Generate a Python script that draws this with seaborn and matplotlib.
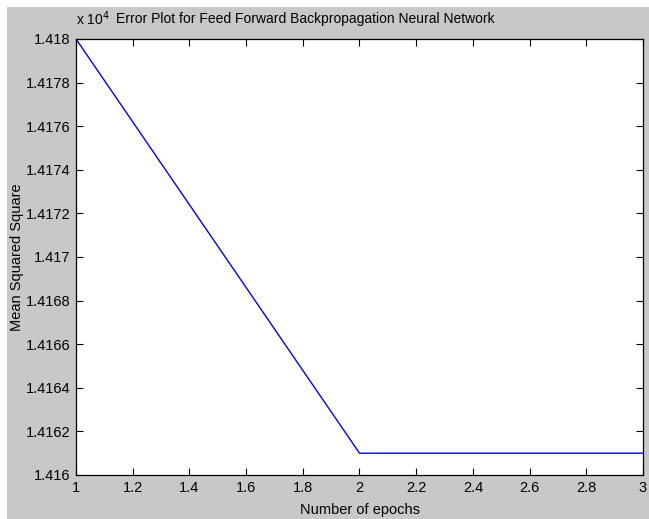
import numpy as np
import pandas as pd
import seaborn as sns
import matplotlib.pyplot as plt
from matplotlib.patches import Rectangle
from matplotlib.ticker import FuncFormatter

# data
epochs = [1, 2, 3]
mse = [14180.0, 14161.0, 14161.0]

x_ticks = np.arange(1, 3.01, 0.2)
y_ticks = np.arange(14160, 14180.1, 2)

df = pd.DataFrame({'epoch': epochs, 'mse': mse})

sns.set_style('ticks')
plt.rcParams['font.family'] = ['Liberation Sans', 'DejaVu Sans']
plt.rcParams['text.color'] = 'black'
plt.rcParams['axes.labelcolor'] = 'black'

fig = plt.figure(figsize=(6.49, 5.19), dpi=100, facecolor='white')
fig.patches.append(Rectangle((7 / 649, 0), 1, 1 - 7 / 519, transform=fig.transFigure,
                             facecolor='#c8c8c8', edgecolor='none', zorder=-10))
ax = fig.add_axes([76 / 649, 44 / 519, 567 / 649, 436 / 519])
ax.set_facecolor('white')

sns.lineplot(data=df, x='epoch', y='mse', ax=ax, color='#0000ff', linewidth=1)

ax.set_xlim(1, 3)
ax.set_ylim(14160, 14180)
ax.set_xticks(x_ticks)
ax.set_yticks(y_ticks)
ax.xaxis.set_major_formatter(FuncFormatter(lambda v, p: f'{v:g}'))
ax.yaxis.set_major_formatter(FuncFormatter(lambda v, p: f'{v / 1e4:.5g}'))
ax.tick_params(direction='in', top=True, right=True, length=5, width=0.8,
               labelsize=10.5, colors='black', labelcolor='black', pad=4)
for s in ax.spines.values():
    s.set_visible(True)
    s.set_linewidth(0.9)
    s.set_color('black')

ax.set_xlabel('Number of epochs', fontsize=10.5, labelpad=6)
ax.set_ylabel('Mean Squared Square', fontsize=10.5, labelpad=1)
fig.text(76 / 649, 1 - 19 / 519, 'x 10$^{4}$', fontsize=10, va='center', ha='left')
fig.text(116 / 649, 1 - 19 / 519, 'Error Plot for Feed Forward Backpropagation Neural Network',
         fontsize=10, va='center', ha='left')

fig.savefig('out.png', dpi=100, facecolor=fig.get_facecolor())
